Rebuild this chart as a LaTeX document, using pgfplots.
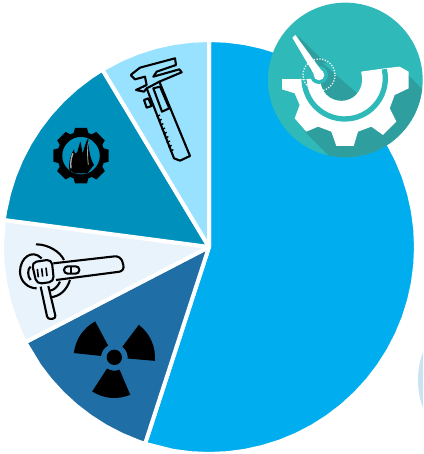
\documentclass[border=0pt]{standalone}
\usepackage{pgfplots}
\usetikzlibrary{calc}
\pgfplotsset{compat=1.18}
\definecolor{cBig}{HTML}{00AEEF}
\definecolor{cDark}{HTML}{1F6EA6}
\definecolor{cPale}{HTML}{E9F3FB}
\definecolor{cTeal}{HTML}{0090BC}
\definecolor{cLight}{HTML}{99E2FF}
\definecolor{bTeal}{HTML}{2FB9B9}
\definecolor{bDark}{HTML}{2E9E9E}
\definecolor{cSide}{HTML}{C9E3F3}
\begin{document}
\begin{tikzpicture}
\path[use as bounding box,clip] (0,0) rectangle (423pt,454pt);
\fill[cSide] (499pt,74pt) circle (81pt);
\begin{axis}[at={(0,0)},anchor=south west,width=423pt,height=454pt,scale only axis,hide axis,clip=false,
  xmin=-209,xmax=214,ymin=-207,ymax=247,data cs=polar]
\pgfplotsset{every axis plot/.append style={draw=white,line width=4pt,line join=round}}
\addplot[fill=cBig,forget plot] coordinates {(0,0) (90,207) (85,207) (80,207) (75,207) (70,207) (65,207) (60,207) (55,207) (50,207) (45,207) (40,207) (35,207) (30,207) (25,207) (20,207) (15,207) (10,207) (5,207) (0,207) (-5,207) (-10,207) (-15,207) (-20,207) (-25,207) (-30,207) (-35,207) (-40,207) (-45,207) (-50,207) (-55,207) (-60,207) (-65,207) (-70,207) (-75,207) (-80,207) (-85,207) (-90,207) (-95,207) (-100,207) (-108,207)} -- cycle;
\addplot[fill=cDark,forget plot] coordinates {(0,0) (-108,207) (-110,207) (-115,207) (-120,207) (-125,207) (-130,207) (-135,207) (-140,207) (-145,207) (-152.6,207)} -- cycle;
\addplot[fill=cPale,forget plot] coordinates {(0,0) (-152.6,207) (-155,207) (-160,207) (-165,207) (-170,207) (-175,207) (-180,207) (-187.5,207)} -- cycle;
\addplot[fill=cTeal,forget plot] coordinates {(0,0) (172.5,207) (170,207) (165,207) (160,207) (155,207) (150,207) (145,207) (140,207) (135,207) (130,207) (125,207) (121,207)} -- cycle;
\addplot[fill=cLight,forget plot] coordinates {(0,0) (121,207) (115,207) (110,207) (105,207) (100,207) (95,207) (90,207)} -- cycle;
\end{axis}
% badge (crop coordinates: 1/3 px)
\begin{scope}[shift={(263pt,454pt)},x=0.33333pt,y=-0.33333pt]
\fill[bTeal] (247,240) circle [radius=232];
\begin{scope}
\clip (247,240) circle [radius=232];
\fill[bDark] (410,200) -- (520,310) -- (450,500) -- (230,500) -- (125,395) -- (245,245) -- cycle;
\fill[bDark] (105,108) -- (215,215) -- (150,235) -- cycle;
\end{scope}
\fill[white] (57,237) -- (57,268) -- (95,280) -- (110,315) -- (95,355) -- (130,395) -- (165,380) -- (205,395) -- (220,438) -- (272,438) -- (285,395) -- (325,380) -- (360,405) -- (400,365) -- (380,325) -- (395,285) -- (437,265) -- (437,215) -- (410,200) -- (365,205) -- (130,238) -- cycle;
\draw[bTeal,line width=5.3pt] (245,235) ++(-13:122) arc[start angle=-13,end angle=178,radius=122];
\fill[bTeal] (235,240) circle [radius=62];
\fill[bTeal] (172,245) -- (172,190) -- (292,190) -- (297,240) -- cycle;
\begin{scope}
\clip (235,240) circle [radius=62];
\fill[bDark] (150,165) -- (300,295) -- (200,320) -- (150,240) -- cycle;
\end{scope}
\fill[bDark] (150,165) -- (215,222) -- (172,240) -- cycle;
\fill[bTeal] (168,225) circle [radius=27];
\fill[white] (88,113) -- (97,105) -- (178,215) -- (160,235) -- cycle;
\fill[white] (168,225) circle [radius=16];
\draw[white,line width=1.3pt,dash pattern=on 1.2pt off 1.6pt] (168,225) circle [radius=48];
\end{scope}
% caliper
\begin{scope}[shift={(100pt,414pt)},x=0.33333pt,y=-0.33333pt,line width=2.1pt,line join=round,draw=black]
\draw (92,105) -- (120,83) -- (225,55) -- (228,75) -- (170,95) -- (160,110) -- (238,88) -- (245,97) -- (178,125) -- (270,348) -- (240,362) -- (222,355) -- (140,145);
\draw (92,105) -- (105,118) -- (135,110) -- (140,135) -- (108,150) -- (132,155) -- (140,145) -- (150,140) -- (178,125);
\draw (160,145) -- (180,140) -- (208,205) -- (186,215) -- cycle;
\draw (132,180) -- (145,175) -- (155,198) -- (140,203) -- cycle;
\draw[line width=1.3pt] (180,225) -- (170,230) (185,238) -- (175,243) (190,251) -- (180,256) (195,264) -- (185,269) (200,277) -- (190,282) (205,290) -- (195,295) (210,303) -- (200,308) (215,316) -- (205,321) (220,329) -- (210,334);
\end{scope}
% black gear and flames
\begin{scope}[shift={(0pt,334pt)},x=0.33333pt,y=-0.33333pt]
\foreach \a in {0,45,...,315}
  \fill[black,rotate around={\a:(243,107)}] (225,24) -- (261,24) -- (268,50) -- (218,50) -- cycle;
\draw[black,line width=5pt] (243,107) circle [radius=64];
\fill[black] (208,150) .. controls (205,120) and (215,100) .. (222,88) .. controls (222,100) and (228,105) .. (232,95) .. controls (235,85) and (238,75) .. (241,64) .. controls (245,80) and (246,95) .. (248,100) .. controls (252,85) and (258,65) .. (265,53) .. controls (265,85) and (270,115) .. (282,135) -- (262,160) -- (225,160) -- cycle;
\draw[gray!70,line width=1.4pt] (213,145) .. controls (210,125) and (215,110) .. (219,100);
\draw[gray!70,line width=.8pt] (265,135) .. controls (262,110) and (262,85) .. (265,65);
\end{scope}
% grinder
\begin{scope}[shift={(0pt,229pt)},x=0.33333pt,y=-0.33333pt,line width=2.1pt,line join=round,draw=black]
\draw (125,100) .. controls (95,70) and (60,100) .. (60,140) .. controls (60,170) and (85,190) .. (110,190);
\draw (108,58) .. controls (145,58) and (180,80) .. (192,105);
\draw (210,165) .. controls (200,195) and (180,215) .. (150,217);
\draw (180,170) .. controls (170,190) and (160,195) .. (150,197);
\draw (92,125) .. controls (82,130) and (82,155) .. (92,165);
\draw[rounded corners=5pt,fill=cPale] (95,112) -- (155,103) -- (162,170) -- (110,177) -- cycle;
\draw[line width=1.6pt] (112,132) -- (115,157) (125,130) -- (128,155) (138,128) -- (141,153);
\draw[rounded corners=6pt] (160,115) -- (362,92) -- (375,138) -- (168,165);
\draw[rounded corners=3.6pt] (192,124) rectangle (238,146);
\draw (214,124) -- (214,146);
\draw[rounded corners=3pt] (122,185) -- (143,283) -- (168,280) -- (145,183);
\end{scope}
% radiation symbol
\begin{scope}[shift={(50pt,144pt)},x=0.33333pt,y=-0.33333pt]
\fill[black] (193,142) circle [radius=23];
\foreach \s/\e in {186/242,-53/5,67/123}
  \fill[black] (193,142) ++(\s:122) arc[start angle=\s,end angle=\e,radius=122] -- ($(193,142)+(\e:40)$) arc[start angle=\e,end angle=\s,radius=40] -- cycle;
\end{scope}
\end{tikzpicture}
\end{document}
